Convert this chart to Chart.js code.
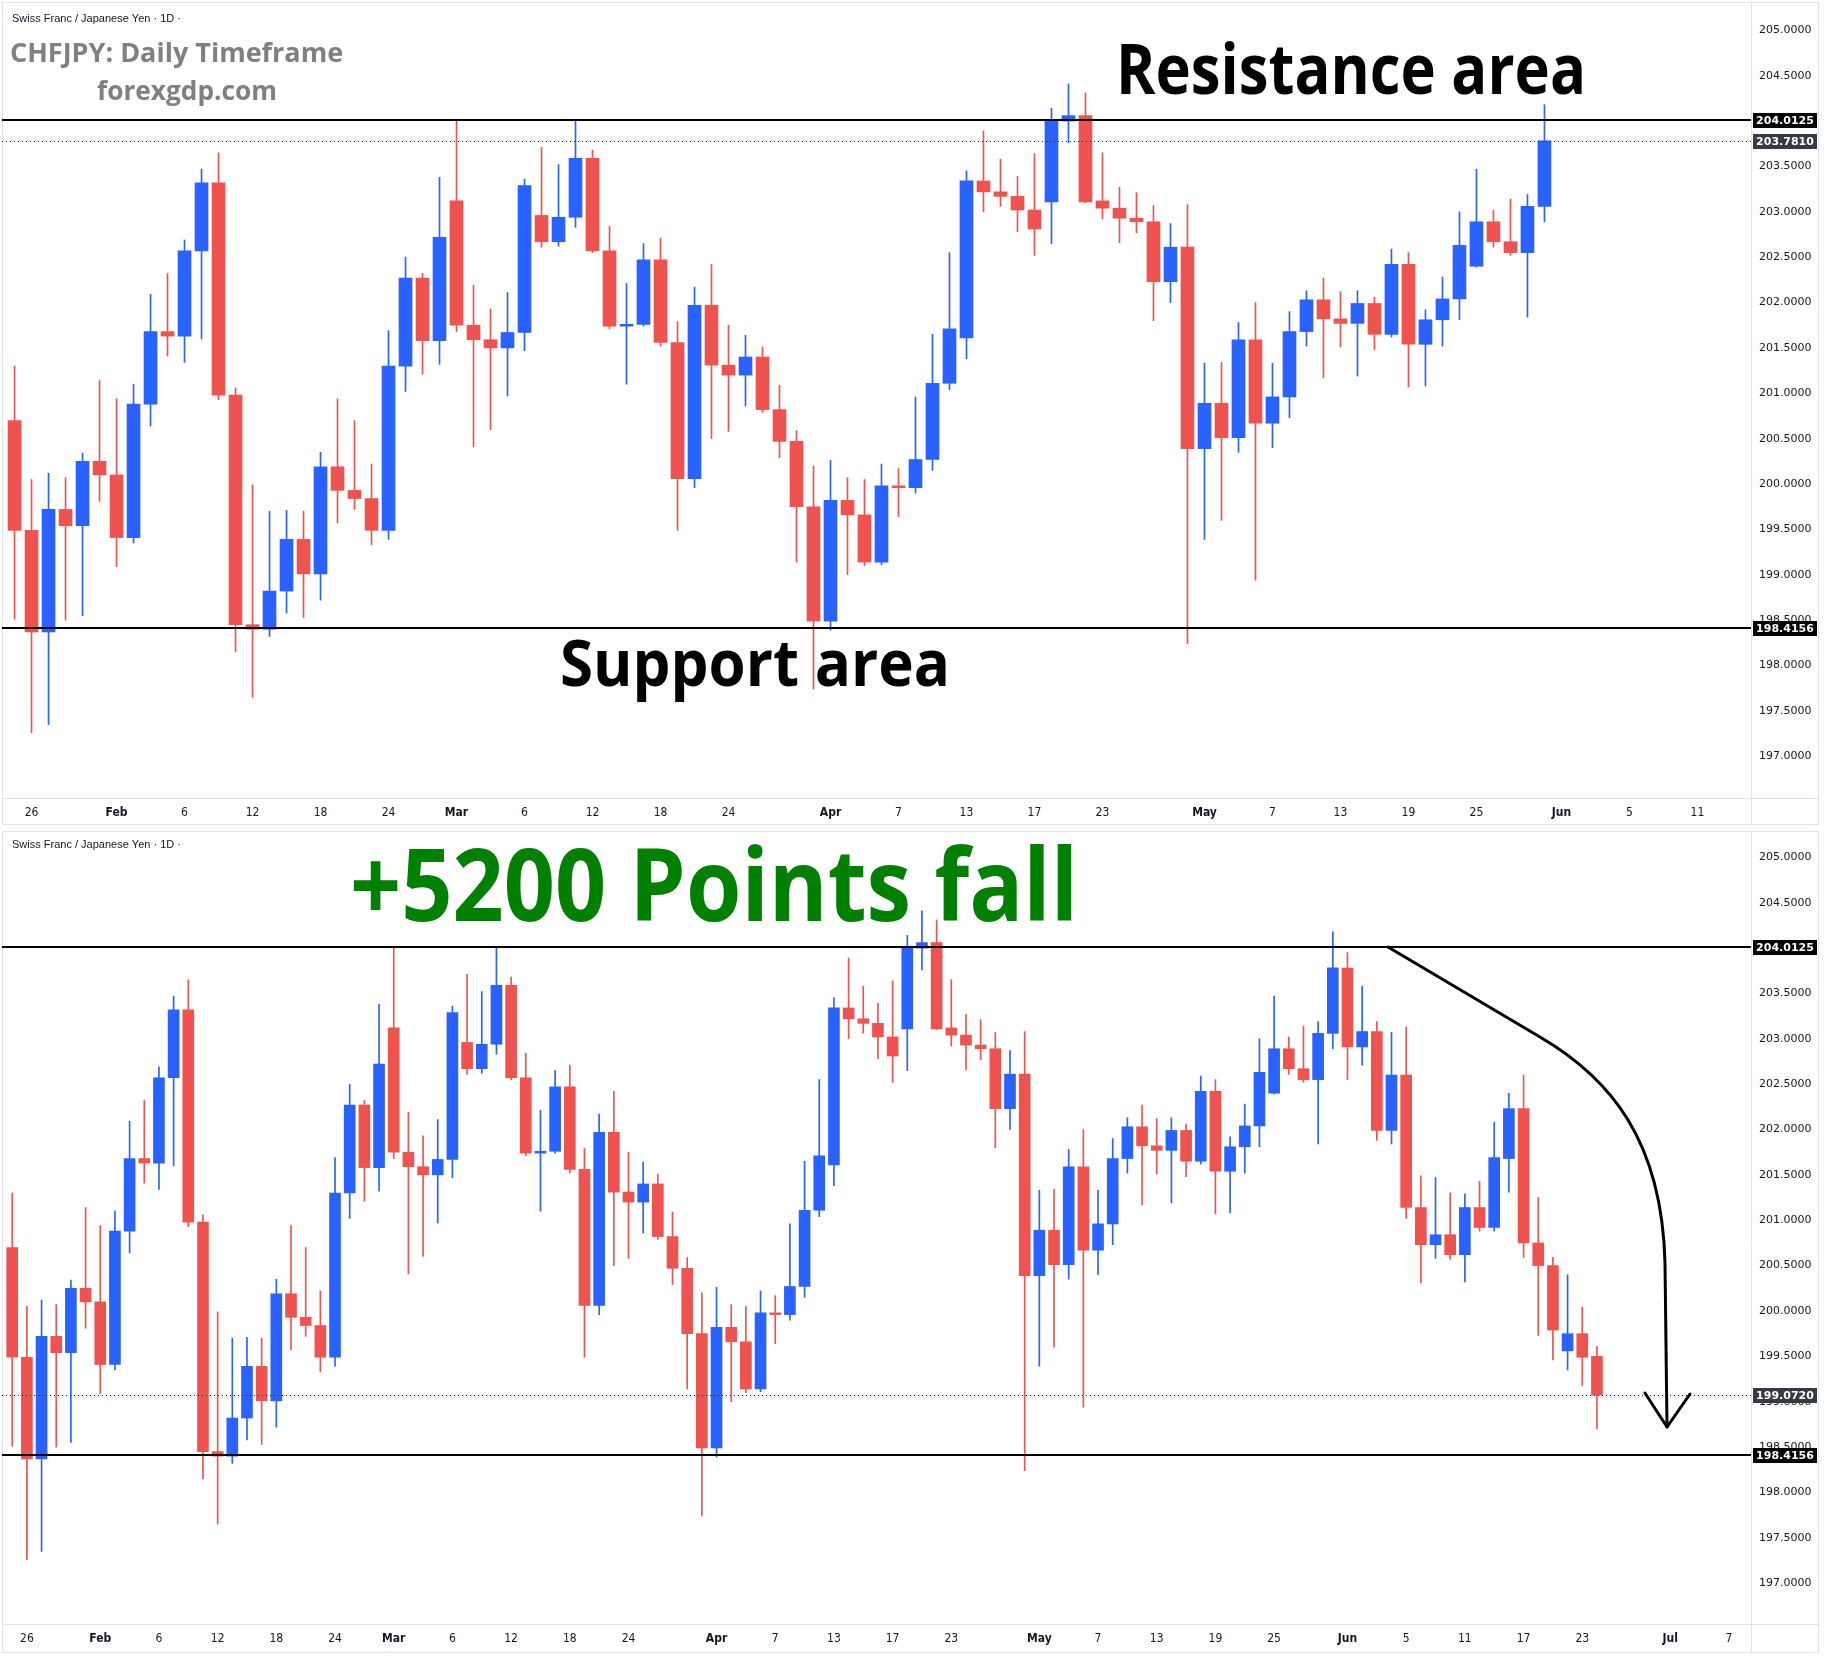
<!DOCTYPE html>
<html>
<head>
<meta charset="utf-8">
<script src="https://cdn.jsdelivr.net/npm/chart.js@4.4.1/dist/chart.umd.min.js"></script>
<style>
  html, body { margin: 0; padding: 0; background: #fff; }
  #wrap { position: relative; width: 1828px; height: 1657px; overflow: hidden; }
  canvas { position: absolute; left: 0; }
  #topChart { top: 0; }
  #bottomChart { top: 828px; }
</style>
</head>
<body>
<div id="wrap">
  <canvas id="topChart" width="1828" height="828"></canvas>
  <canvas id="bottomChart" width="1828" height="829"></canvas>
</div>
<script>
const BLUE = "#2962ff";
const RED = "#ef5350";
const LINE_GREY = "#e0e3eb";

// trading days, 2026
const dates = [
  "01-23", "01-26", "01-27", "01-28", "01-29", "01-30",
  "02-02", "02-03", "02-04", "02-05", "02-06", "02-09", "02-10", "02-11", "02-12", "02-13",
  "02-16", "02-17", "02-18", "02-19", "02-20", "02-23", "02-24", "02-25", "02-26", "02-27",
  "03-02", "03-03", "03-04", "03-05", "03-06", "03-09", "03-10", "03-11", "03-12", "03-13",
  "03-16", "03-17", "03-18", "03-19", "03-20", "03-23", "03-24", "03-25", "03-26", "03-27",
  "03-30", "03-31", "04-01", "04-02", "04-03", "04-06", "04-07", "04-08", "04-09", "04-10",
  "04-13", "04-14", "04-15", "04-16", "04-17", "04-20", "04-21", "04-22", "04-23", "04-24",
  "04-27", "04-28", "04-29", "04-30", "05-01", "05-04", "05-05", "05-06", "05-07", "05-08",
  "05-11", "05-12", "05-13", "05-14", "05-15", "05-18", "05-19", "05-20", "05-21", "05-22",
  "05-25", "05-26", "05-27", "05-28", "05-29", "06-01", "06-02", "06-03", "06-04", "06-05",
  "06-08", "06-09", "06-10", "06-11", "06-12", "06-15", "06-16", "06-17", "06-18", "06-19",
  "06-22", "06-23", "06-24",
];

const opens = [
  200.70, 199.49, 198.37, 199.72, 199.54, 200.25, 200.10, 199.41, 200.88, 201.68,
  201.63, 202.57, 203.32, 200.98, 198.45, 198.40, 198.82, 199.39, 199.01, 200.19,
  199.93, 199.84, 199.49, 201.30, 202.27, 201.58, 203.12, 201.75, 201.59, 201.50,
  201.67, 202.96, 202.67, 202.94, 203.59, 202.57, 201.74, 201.76, 202.47, 201.56,
  200.06, 201.97, 201.31, 201.20, 201.40, 200.82, 200.47, 199.75, 198.49, 199.82,
  199.66, 199.14, 199.98, 199.96, 200.27, 201.11, 201.61, 203.34, 203.22, 203.17,
  203.02, 203.11, 204.00, 204.06, 203.12, 203.04, 202.93, 202.89, 202.23, 202.61,
  200.39, 200.89, 200.51, 201.59, 200.67, 200.96, 201.68, 202.03, 201.82, 201.77,
  201.99, 201.65, 202.42, 201.54, 201.81, 202.04, 202.40, 202.89, 202.67, 202.55,
  203.06, 203.78, 202.91, 203.08, 201.99, 202.60, 201.14, 200.73, 200.84, 200.62,
  201.14, 200.92, 201.68, 202.23, 200.75, 200.50, 199.56, 199.75, 199.50,
];
const highs = [
  201.30, 200.05, 200.12, 200.07, 200.34, 201.14, 200.94, 201.10, 202.09, 202.32,
  202.69, 203.47, 203.65, 201.06, 199.99, 199.70, 199.71, 199.70, 200.35, 200.94,
  200.70, 200.22, 201.69, 202.50, 202.32, 203.38, 204.01, 202.19, 201.93, 202.11,
  203.36, 203.71, 203.52, 204.01, 203.68, 202.84, 202.21, 202.65, 202.71, 201.79,
  202.17, 202.42, 201.75, 201.64, 201.51, 201.09, 200.59, 200.20, 200.26, 200.07,
  200.05, 200.22, 200.17, 200.96, 201.65, 202.55, 203.45, 203.89, 203.58, 203.39,
  203.64, 204.14, 204.41, 204.31, 203.65, 203.27, 203.21, 203.07, 202.87, 203.08,
  201.33, 201.34, 201.78, 202.00, 201.33, 201.90, 202.13, 202.27, 202.12, 202.13,
  202.06, 202.59, 202.55, 201.92, 202.28, 203.00, 203.47, 203.02, 203.14, 203.19,
  204.18, 203.95, 203.58, 203.19, 203.07, 203.13, 201.49, 201.47, 201.30, 201.29,
  201.43, 202.08, 202.40, 202.60, 201.25, 200.59, 200.40, 200.04, 199.61,
];
const lows = [
  198.51, 197.26, 197.35, 198.50, 198.55, 199.81, 199.09, 199.35, 200.64, 201.41,
  201.34, 201.60, 200.93, 198.15, 197.65, 198.32, 198.58, 198.53, 198.72, 199.57,
  199.72, 199.33, 199.39, 201.02, 201.21, 201.32, 201.68, 200.41, 200.60, 200.97,
  201.47, 202.61, 202.62, 202.83, 202.55, 201.71, 201.10, 201.74, 201.52, 199.49,
  199.96, 200.50, 200.58, 200.86, 200.79, 200.29, 199.14, 197.74, 198.39, 199.00,
  199.10, 199.11, 199.64, 199.90, 200.15, 201.04, 201.38, 203.00, 203.06, 202.78,
  202.52, 202.65, 203.76, 203.10, 202.92, 202.66, 202.77, 201.80, 202.00, 198.24,
  199.39, 199.60, 200.35, 198.94, 200.40, 200.73, 201.52, 201.17, 201.51, 201.19,
  201.48, 201.62, 201.07, 201.08, 201.52, 201.81, 202.39, 202.61, 202.52, 201.84,
  202.89, 202.55, 202.71, 201.88, 201.84, 201.02, 200.31, 200.58, 200.57, 200.32,
  200.88, 200.88, 201.31, 200.59, 199.73, 199.46, 199.35, 199.18, 198.70,
];
const closes = [
  199.49, 198.37, 199.72, 199.54, 200.25, 200.10, 199.41, 200.88, 201.68, 201.63,
  202.57, 203.32, 200.98, 198.45, 198.40, 198.82, 199.39, 199.01, 200.19, 199.93,
  199.84, 199.49, 201.30, 202.27, 201.58, 202.72, 201.75, 201.59, 201.50, 201.67,
  203.29, 202.67, 202.94, 203.59, 202.57, 201.74, 201.76, 202.47, 201.56, 200.06,
  201.97, 201.31, 201.20, 201.40, 200.82, 200.47, 199.75, 198.49, 199.82, 199.66,
  199.14, 199.98, 199.96, 200.27, 201.11, 201.71, 203.34, 203.22, 203.17, 203.02,
  202.81, 204.00, 204.06, 203.11, 203.04, 202.93, 202.89, 202.23, 202.61, 200.39,
  200.89, 200.51, 201.59, 200.67, 200.96, 201.68, 202.03, 201.82, 201.77, 201.99,
  201.65, 202.42, 201.54, 201.81, 202.04, 202.63, 202.89, 202.67, 202.55, 203.06,
  203.781, 202.91, 203.08, 201.99, 202.60, 201.14, 200.73, 200.84, 200.62, 201.14,
  200.92, 201.69, 202.23, 200.75, 200.50, 199.79, 199.75, 199.49, 199.072,
];

const priceTicks = [
  197, 197.5, 198, 198.5, 199, 199.5, 200, 200.5, 201,
  201.5, 202, 202.5, 203, 203.5, 204, 204.5, 205,
];

// time axis ticks, position = trading day index
const topTickPos = [1, 6, 10, 14, 18, 22, 26, 30, 34, 38, 42, 48, 52, 56, 60, 64, 70, 74, 78, 82, 86, 91, 95, 99];
const topTickLabels = ["26", "Feb", "6", "12", "18", "24", "Mar", "6", "12", "18", "24", "Apr", "7", "13", "17", "23", "May", "7", "13", "19", "25", "Jun", "5", "11"];
const bottomTickPos = [...topTickPos, 103, 107, 113, 117];
const bottomTickLabels = [...topTickLabels, "17", "23", "Jul", "7"];
const MONTHS = ["Feb", "Mar", "Apr", "May", "Jun", "Jul"];

const RESISTANCE = 204.0125;
const SUPPORT = 198.4156;

const colorOf = (i) => (closes[i] >= opens[i] ? BLUE : RED);

// Panel frame, level lines, price boxes and text drawings
function panelPlugin(cfg) {
  return {
    id: "panel",
    beforeDraw(chart) {
      const { ctx, chartArea: a } = chart;
      const [fx, fy, fw, fh] = cfg.frame;
      ctx.save();
      ctx.fillStyle = "#ffffff";
      ctx.fillRect(0, 0, chart.width, chart.height);
      ctx.strokeStyle = LINE_GREY;
      ctx.lineWidth = 1;
      ctx.strokeRect(fx + 0.5, fy + 0.5, fw, fh);
      ctx.beginPath();
      ctx.moveTo(fx, Math.round(a.bottom) + 0.5);
      ctx.lineTo(fx + fw, Math.round(a.bottom) + 0.5);
      ctx.moveTo(Math.round(a.right) + 0.5, fy);
      ctx.lineTo(Math.round(a.right) + 0.5, fy + fh);
      ctx.stroke();

      ctx.fillStyle = "#131722";
      ctx.font = '11px "Liberation Sans", Arial, sans-serif';
      ctx.textBaseline = "middle";
      ctx.textAlign = "left";
      ctx.fillText("Swiss Franc / Japanese Yen · 1D ·", 12, cfg.headerY);

      cfg.texts.forEach((t) => {
        ctx.font = `700 ${t.size}px "Open Sans", sans-serif`;
        ctx.fillStyle = t.color;
        ctx.textBaseline = "alphabetic";
        ctx.fillText(t.text, t.x, t.y, t.maxWidth);
      });
      ctx.restore();
    },
    afterDatasetsDraw(chart) {
      const { ctx, chartArea: a, scales: { y } } = chart;
      ctx.save();
      // last price dotted line
      const ly = Math.round(y.getPixelForValue(cfg.lastPrice)) + 0.5;
      ctx.strokeStyle = "#131722";
      ctx.lineWidth = 1;
      ctx.setLineDash([1, 3]);
      ctx.beginPath();
      ctx.moveTo(cfg.frame[0], ly);
      ctx.lineTo(a.right, ly);
      ctx.stroke();
      ctx.setLineDash([]);

      ctx.strokeStyle = "#000000";
      ctx.lineWidth = 2;
      [RESISTANCE, SUPPORT].forEach((v) => {
        const py = Math.round(y.getPixelForValue(v));
        ctx.beginPath();
        ctx.moveTo(cfg.frame[0], py);
        ctx.lineTo(a.right, py);
        ctx.stroke();
      });

      if (cfg.arrow) {
        const p = cfg.arrow;
        ctx.lineWidth = 3;
        ctx.lineJoin = "round";
        ctx.lineCap = "round";
        ctx.beginPath();
        ctx.moveTo(p[0], p[1]);
        ctx.lineTo(p[2], p[3]);
        ctx.bezierCurveTo(p[4], p[5], p[6], p[7], p[8], p[9]);
        ctx.lineTo(p[10], p[11]);
        ctx.stroke();
        ctx.beginPath();
        ctx.moveTo(p[10] - 22, p[11] - 34);
        ctx.lineTo(p[10], p[11]);
        ctx.lineTo(p[10] + 23, p[11] - 33);
        ctx.stroke();
      }
      ctx.restore();
    },
    afterDraw(chart) {
      const { ctx, chartArea: a, scales: { y } } = chart;
      ctx.save();
      const box = (v, bg) => {
        const py = y.getPixelForValue(v);
        ctx.fillStyle = bg;
        ctx.fillRect(a.right + 2, Math.round(py) - 7, 64, 15);
        ctx.fillStyle = "#ffffff";
        ctx.font = '700 11px "DejaVu Sans", sans-serif';
        ctx.textAlign = "center";
        ctx.textBaseline = "middle";
        ctx.fillText(v.toFixed(4), a.right + 34, Math.round(py) + 1);
      };
      box(RESISTANCE, "#000000");
      box(cfg.lastPrice, "#363a45");
      box(SUPPORT, "#000000");
      ctx.restore();
    },
  };
}

function createChart(canvasId, count, cfg) {
  const idx = [...Array(count).keys()];
  const ctx = document.getElementById(canvasId).getContext("2d");
  return new Chart(ctx, {
    type: "bar",
    data: {
      labels: dates.slice(0, count),
      datasets: [
        {
          label: "wick",
          data: idx.map((i) => ({ x: i, y: [lows[i], highs[i]] })),
          backgroundColor: (c) => colorOf(c.dataIndex),
          barThickness: 1,
          grouped: false,
          order: 2,
        },
        {
          label: "body",
          data: idx.map((i) => ({ x: i, y: [opens[i], closes[i]] })),
          backgroundColor: (c) => colorOf(c.dataIndex),
          barThickness: cfg.bodyWidth,
          grouped: false,
          order: 1,
        },
      ],
    },
    options: {
      responsive: false,
      animation: false,
      devicePixelRatio: 1,
      layout: { padding: cfg.padding },
      plugins: {
        legend: { display: false },
        tooltip: { enabled: false },
      },
      scales: {
        x: {
          type: "linear",
          offset: false,
          min: cfg.xMin,
          max: cfg.xMax,
          grid: { display: false, drawTicks: false },
          border: { display: false },
          afterFit: (s) => {
            s.height = 27;
            s.paddingLeft = 0;
            s.paddingRight = 0;
          },
          afterBuildTicks: (s) => {
            s.ticks = cfg.tickPos.map((v) => ({ value: v }));
          },
          ticks: {
            autoSkip: false,
            maxRotation: 0,
            padding: 8,
            color: "#131722",
            font: (c) => ({
              family: '"Liberation Sans Narrow", "DejaVu Sans Condensed", Roboto, sans-serif',
              size: 12,
              weight: c.tick && MONTHS.includes(cfg.tickLabels[c.index]) ? "bold" : "normal",
            }),
            callback: (v, i) => cfg.tickLabels[i],
          },
        },
        y: {
          position: "right",
          min: cfg.yMin,
          max: cfg.yMax,
          grid: { display: false, drawTicks: false },
          border: { display: false },
          afterFit: (s) => {
            s.width = 69;
            s.paddingTop = 0;
            s.paddingBottom = 0;
          },
          afterBuildTicks: (s) => {
            s.ticks = priceTicks.map((v) => ({ value: v }));
          },
          ticks: {
            autoSkip: false,
            padding: 8,
            crossAlign: "center",
            color: "#131722",
            font: { family: '"DejaVu Sans", sans-serif', size: 11 },
            callback: (v) => Number(v).toFixed(4),
          },
        },
      },
    },
    plugins: [panelPlugin(cfg)],
  });
}

createChart("topChart", 91, {
  bodyWidth: 13,
  padding: { left: 4, right: 8, top: 4, bottom: 3 },
  xMin: -0.62,
  xMax: 102.15,
  yMin: 196.54,
  yMax: 205.29,
  tickPos: topTickPos,
  tickLabels: topTickLabels,
  frame: [2, 2, 1816, 822],
  headerY: 19,
  lastPrice: closes[90],
  texts: [
    { text: "CHFJPY: Daily Timeframe", x: 10, y: 62, size: 27, color: "#808080", maxWidth: 340 },
    { text: "forexgdp.com", x: 97, y: 100, size: 27, color: "#808080", maxWidth: 180 },
    { text: "Resistance area", x: 1116, y: 94, size: 70, color: "#000000", maxWidth: 470 },
    { text: "Support area", x: 560, y: 686, size: 65, color: "#000000", maxWidth: 390 },
  ],
});

createChart("bottomChart", 109, {
  bodyWidth: 11,
  padding: { left: 4, right: 8, top: 3, bottom: 6 },
  xMin: -0.56,
  xMax: 118.5,
  yMin: 196.55,
  yMax: 205.29,
  tickPos: bottomTickPos,
  tickLabels: bottomTickLabels,
  frame: [2, 3, 1816, 821],
  headerY: 17,
  lastPrice: closes[108],
  texts: [
    { text: "+5200 Points fall", x: 350, y: 93, size: 100, color: "#008000", maxWidth: 728 },
  ],
  arrow: [1388, 119, 1540, 209, 1610, 250, 1662, 312, 1665, 435, 1667, 599],
});
</script>
</body>
</html>
